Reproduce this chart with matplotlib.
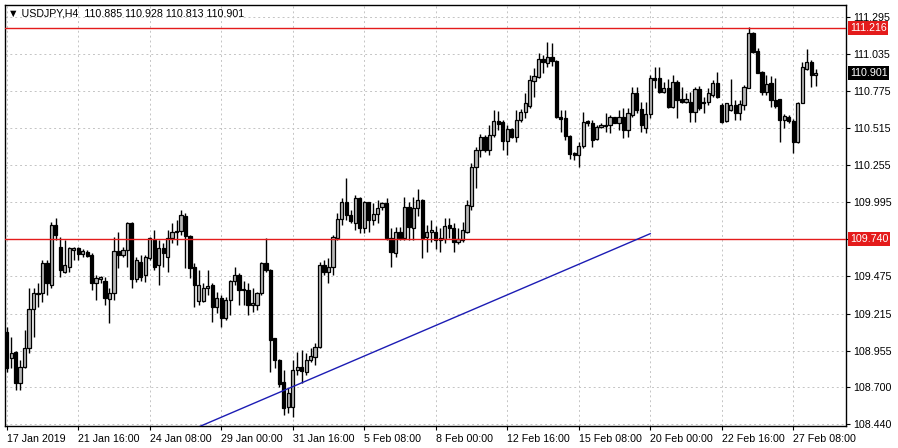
import matplotlib
matplotlib.use("Agg")
import matplotlib.pyplot as plt
import numpy as np

# ---------------- data ----------------
symbol_title = "USDJPY,H4  110.885 110.928 110.813 110.901"

opens = [109.087, 108.900, 108.942, 108.730, 108.842, 108.970, 109.244, 109.350, 109.356, 109.567,
         109.415, 109.836, 109.679, 109.508, 109.543, 109.660, 109.672, 109.630, 109.648, 109.625,
         109.426, 109.458, 109.445, 109.314, 109.356, 109.653, 109.625, 109.660, 109.847, 109.454,
         109.578, 109.485, 109.602, 109.730, 109.555, 109.672, 109.613, 109.742, 109.789, 109.793,
         109.901, 109.761, 109.543, 109.303, 109.303, 109.391, 109.415, 109.263, 109.326, 109.181,
         109.310, 109.443, 109.485, 109.387, 109.380, 109.274, 109.274, 109.356, 109.567, 109.520,
         109.040, 108.889, 108.737, 108.557, 108.562, 108.819, 108.838, 108.807, 108.889, 108.912,
         108.978, 109.555, 109.509, 109.544, 109.742, 109.876, 109.995, 109.906, 109.848, 110.023,
         109.813, 109.995, 109.871, 109.913, 109.960, 109.988, 109.742, 109.637, 109.789, 109.742,
         109.965, 109.813, 109.953, 110.011, 109.754, 109.784, 109.789, 109.731, 109.738, 109.836,
         109.817, 109.714, 109.731, 109.789, 109.971, 110.245, 110.362, 110.455, 110.362, 110.467,
         110.565, 110.556, 110.425, 110.509, 110.455, 110.572, 110.626, 110.673, 110.848, 110.876,
         111.000, 110.970, 111.017, 110.986, 110.596, 110.584, 110.460, 110.338, 110.327, 110.390,
         110.565, 110.549, 110.437, 110.525, 110.530, 110.537, 110.591, 110.553, 110.591, 110.502,
         110.607, 110.764, 110.647, 110.514, 110.614, 110.864, 110.864, 110.771, 110.794, 110.666,
         110.841, 110.717, 110.701, 110.701, 110.631, 110.790, 110.701, 110.701, 110.748, 110.834,
         110.678, 110.568, 110.643, 110.678, 110.624, 110.678, 110.795, 111.185, 111.059, 110.912,
         110.771, 110.830, 110.713, 110.717, 110.573, 110.596, 110.568, 110.421, 110.689, 110.928,
         110.982, 110.885]
highs = [109.122, 109.052, 108.950, 108.889, 109.099, 109.391, 109.396, 109.431, 109.590, 109.590,
         109.859, 109.882, 109.754, 109.730, 109.684, 109.684, 109.684, 109.665, 109.660, 109.637,
         109.485, 109.480, 109.468, 109.391, 109.754, 109.789, 109.684, 109.859, 109.860, 109.613,
         109.625, 109.625, 109.754, 109.801, 109.730, 109.707, 109.801, 109.847, 109.871, 109.941,
         109.917, 109.765, 109.567, 109.520, 109.426, 109.520, 109.426, 109.368, 109.345, 109.333,
         109.450, 109.543, 109.496, 109.443, 109.426, 109.391, 109.368, 109.578, 109.742, 109.525,
         109.045, 108.895, 108.819, 108.690, 108.889, 108.948, 108.959, 108.936, 108.971, 109.006,
         109.579, 109.590, 109.602, 109.766, 109.918, 110.023, 110.163, 109.941, 110.046, 110.035,
         110.007, 110.000, 109.988, 110.011, 110.000, 110.023, 109.813, 109.824, 109.824, 110.035,
         110.000, 110.035, 110.085, 110.015, 109.836, 109.871, 109.831, 109.812, 109.887, 109.883,
         109.847, 109.812, 109.859, 110.011, 110.268, 110.385, 110.472, 110.467, 110.537, 110.642,
         110.635, 110.572, 110.537, 110.518, 110.642, 110.649, 110.759, 110.888, 110.935, 111.040,
         111.028, 111.122, 111.110, 110.993, 110.642, 110.642, 110.467, 110.350, 110.420, 110.631,
         110.572, 110.572, 110.537, 110.549, 110.619, 110.607, 110.596, 110.642, 110.654, 110.654,
         110.806, 110.806, 110.701, 110.701, 110.888, 110.942, 110.942, 110.841, 110.857, 110.888,
         110.853, 110.806, 110.759, 110.771, 110.806, 110.812, 110.731, 110.795, 110.853, 110.912,
         110.689, 110.694, 110.858, 110.713, 110.713, 110.818, 111.227, 111.192, 111.075, 110.915,
         110.888, 110.881, 110.865, 110.720, 110.615, 110.608, 110.577, 110.701, 110.982, 111.068,
         110.993, 110.928]
lows = [108.807, 108.830, 108.678, 108.678, 108.835, 108.935, 109.052, 109.263, 109.298, 109.345,
        109.391, 109.730, 109.473, 109.496, 109.508, 109.590, 109.590, 109.613, 109.613, 109.380,
        109.309, 109.426, 109.274, 109.146, 109.309, 109.532, 109.613, 109.543, 109.391, 109.438,
        109.443, 109.433, 109.590, 109.520, 109.415, 109.543, 109.508, 109.707, 109.695, 109.765,
        109.532, 109.461, 109.263, 109.274, 109.298, 109.345, 109.158, 109.216, 109.122, 109.169,
        109.204, 109.415, 109.274, 109.274, 109.204, 109.228, 109.239, 109.345, 109.508, 108.807,
        108.830, 108.700, 108.503, 108.515, 108.492, 108.784, 108.725, 108.784, 108.877, 108.854,
        108.971, 109.485, 109.427, 109.485, 109.731, 109.836, 109.871, 109.848, 109.801, 109.778,
        109.778, 109.789, 109.836, 109.848, 109.941, 109.730, 109.544, 109.614, 109.731, 109.731,
        109.731, 109.731, 109.900, 109.602, 109.649, 109.719, 109.667, 109.649, 109.707, 109.742,
        109.649, 109.700, 109.719, 109.777, 109.941, 110.093, 110.315, 110.346, 110.327, 110.455,
        110.502, 110.362, 110.327, 110.448, 110.420, 110.556, 110.584, 110.654, 110.736, 110.865,
        110.900, 110.946, 110.953, 110.584, 110.490, 110.432, 110.296, 110.292, 110.240, 110.373,
        110.530, 110.385, 110.432, 110.514, 110.490, 110.479, 110.549, 110.502, 110.444, 110.451,
        110.596, 110.619, 110.490, 110.483, 110.584, 110.794, 110.759, 110.759, 110.654, 110.654,
        110.584, 110.689, 110.689, 110.560, 110.560, 110.640, 110.619, 110.678, 110.736, 110.725,
        110.549, 110.561, 110.638, 110.573, 110.573, 110.643, 110.795, 111.040, 110.900, 110.748,
        110.748, 110.661, 110.654, 110.421, 110.514, 110.549, 110.339, 110.414, 110.689, 110.923,
        110.806, 110.813]
closes = [108.830, 108.940, 108.730, 108.842, 108.970, 109.244, 109.356, 109.360, 109.567, 109.426,
          109.836, 109.765, 109.520, 109.555, 109.672, 109.672, 109.630, 109.656, 109.620, 109.426,
          109.461, 109.470, 109.321, 109.356, 109.653, 109.625, 109.660, 109.847, 109.454, 109.590,
          109.473, 109.613, 109.742, 109.543, 109.672, 109.637, 109.742, 109.789, 109.793, 109.906,
          109.761, 109.532, 109.415, 109.415, 109.391, 109.410, 109.263, 109.326, 109.181, 109.310,
          109.443, 109.485, 109.380, 109.380, 109.274, 109.286, 109.356, 109.567, 109.520, 109.029,
          108.889, 108.720, 108.550, 108.655, 108.819, 108.838, 108.815, 108.889, 108.917, 108.978,
          109.555, 109.509, 109.539, 109.754, 109.876, 109.995, 109.906, 109.866, 110.023, 109.813,
          109.995, 109.871, 109.913, 109.953, 109.988, 109.742, 109.649, 109.789, 109.742, 109.965,
          109.824, 109.953, 110.008, 109.742, 109.784, 109.801, 109.731, 109.742, 109.831, 109.812,
          109.714, 109.738, 109.801, 109.976, 110.245, 110.362, 110.455, 110.362, 110.467, 110.565,
          110.542, 110.425, 110.509, 110.455, 110.572, 110.626, 110.689, 110.853, 110.881, 111.000,
          110.977, 111.017, 110.986, 110.596, 110.577, 110.460, 110.334, 110.327, 110.390, 110.560,
          110.549, 110.432, 110.525, 110.537, 110.540, 110.591, 110.553, 110.591, 110.502, 110.624,
          110.764, 110.642, 110.537, 110.614, 110.864, 110.853, 110.771, 110.794, 110.666, 110.841,
          110.712, 110.701, 110.717, 110.631, 110.787, 110.660, 110.689, 110.759, 110.834, 110.736,
          110.561, 110.689, 110.678, 110.624, 110.685, 110.806, 111.185, 111.052, 110.905, 110.771,
          110.825, 110.713, 110.671, 110.573, 110.601, 110.568, 110.421, 110.694, 110.942, 110.982,
          110.888, 110.901]

date_ticks = [0, 16, 32, 48, 64, 80, 96, 112, 128, 144, 160, 176]
date_labels = ["17 Jan 2019", "21 Jan 16:00", "24 Jan 08:00", "29 Jan 00:00", "31 Jan 16:00",
               "5 Feb 08:00", "8 Feb 00:00", "12 Feb 16:00", "15 Feb 08:00", "20 Feb 00:00",
               "22 Feb 16:00", "27 Feb 08:00"]
price_ticks = [111.295, 111.035, 110.775, 110.515, 110.255, 109.995, 109.735,
               109.475, 109.215, 108.955, 108.700, 108.440]
price_labels = ["111.295", "111.035", "110.775", "110.515", "110.255", "109.995", "",
                "109.475", "109.215", "108.955", "108.700", "108.440"]

hlines_levels = [111.216, 109.740]
trend_x = [40, 144]
trend_y = [108.38, 109.775]
last_price = 110.901

# ---------------- figure ----------------
W, H = 898, 448
fig = plt.figure(figsize=(W / 100, H / 100), dpi=100)
ax = fig.add_axes([5 / W, (H - 426) / H, (846 - 5) / W, (426 - 5) / H])

FONT = ["Liberation Sans", "DejaVu Sans"]
FS = 7.7

n = len(opens)
x = np.arange(n)
o = np.array(opens); h = np.array(highs); l = np.array(lows); c = np.array(closes)

ax.set_xlim(-0.38, 187.8)
ax.set_ylim(108.426, 111.379)

# grid
ax.set_axisbelow(True)
ax.grid(True, color="#c4c4c4", linestyle=(0, (2, 3)), linewidth=0.7)

# candles
ax.vlines(x, l, h, color="black", linewidth=1.0, zorder=2)
bull = c >= o
body_bottom = np.minimum(o, c)
body_h = np.maximum(np.abs(c - o), 0.004)
ax.bar(x[bull], body_h[bull], bottom=body_bottom[bull], width=0.72,
       color="#b8b8b8", edgecolor="black", linewidth=0.9, zorder=3)
ax.bar(x[~bull], body_h[~bull], bottom=body_bottom[~bull], width=0.72,
       color="black", edgecolor="black", linewidth=0.9, zorder=3)

# horizontal levels
for lv in hlines_levels:
    ax.axhline(lv, color="#e41b1b", linewidth=1.0, zorder=4)

# trend line
ax.plot(trend_x, trend_y, color="#1c1cb4", linewidth=1.0, zorder=4)

# axes styling
for s in ax.spines.values():
    s.set_color("black")
    s.set_linewidth(1.0)

ax.yaxis.tick_right()
ax.set_yticks(price_ticks)
ax.set_yticklabels(price_labels, fontsize=FS, family=FONT)
ax.tick_params(axis="y", direction="out", length=3, width=0.8, pad=2, colors="black")

ax.set_xticks(date_ticks)
ax.set_xticklabels(date_labels, fontsize=FS, family=FONT)
for t in ax.get_xticklabels():
    t.set_horizontalalignment("left")
ax.tick_params(axis="x", direction="out", length=3, width=0.8, pad=2.5, colors="black")

# right-side price labels
ytr = ax.get_yaxis_transform()
for lv in hlines_levels:
    ax.text(1.0045, lv, f"{lv:.3f}", transform=ytr, ha="left", va="center",
            fontsize=FS, family=FONT, color="white", zorder=10, clip_on=False,
            bbox=dict(boxstyle="square,pad=0.18", fc="#e41b1b", ec="none"))
ax.text(1.0045, last_price, f"{last_price:.3f}", transform=ytr, ha="left", va="center",
        fontsize=FS, family=FONT, color="white", zorder=10, clip_on=False,
        bbox=dict(boxstyle="square,pad=0.18", fc="black", ec="none"))

# title
fig.text(8 / W, 1 - 14 / H, "\u25BC " + symbol_title, ha="left", va="center",
         fontsize=FS, family=FONT, color="black")

fig.savefig("out.png", dpi=100)
